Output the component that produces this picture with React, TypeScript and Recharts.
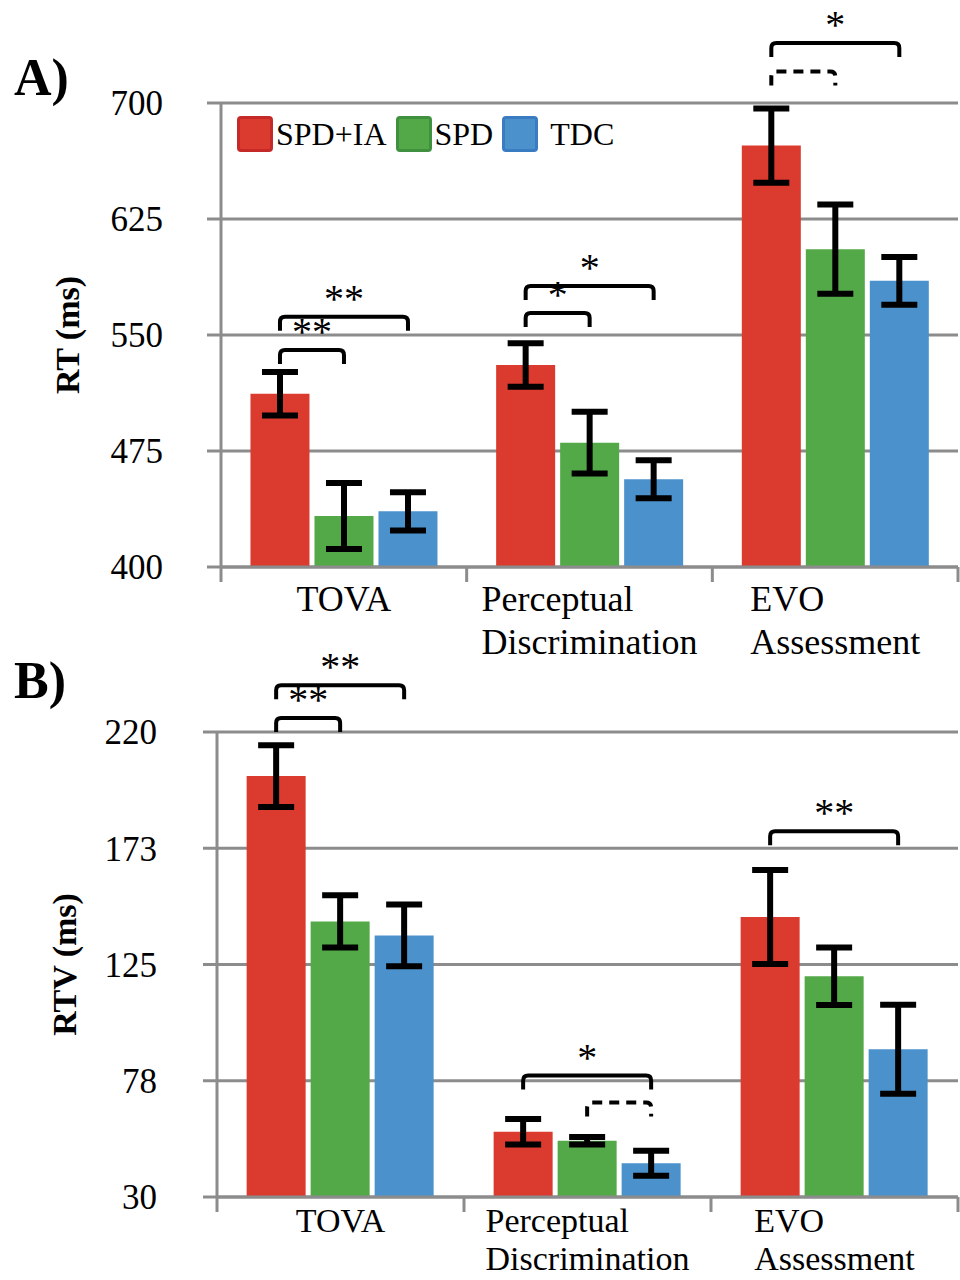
import React from 'react';
import { BarChart, Bar, XAxis, YAxis, CartesianGrid, ErrorBar, LabelList, Legend } from 'recharts';

// ---------- data ----------
const categories = ['TOVA', 'Perceptual Discrimination', 'EVO Assessment'];
const groupNames = ['SPD+IA', 'SPD', 'TDC'];

// Panel A: RT (ms)
const rtSpdIa = [512, 530.6, 672.5];
const rtSpd = [433, 480.4, 605.5];
const rtTdc = [436, 456.7, 585];
const rtErrSpdIa = [14, 14, 24];
const rtErrSpd = [21.3, 20, 28.8];
const rtErrTdc = [12.4, 12.3, 15.4];
const rtTicks = [400, 475, 550, 625, 700];
const rtTickLabels = ['400', '475', '550', '625', '700'];

// Panel B: RTV (ms)
const rtvSpdIa = [202, 56.7, 144.4];
const rtvSpd = [142.6, 53, 120.2];
const rtvTdc = [136.9, 43.8, 90.4];
const rtvErrSpdIa = [12.6, 5.2, 19.2];
const rtvErrSpd = [10.7, 1.5, 11.7];
const rtvErrTdc = [12.6, 5.1, 18.2];
const rtvTicks = [30, 77.5, 125, 172.5, 220];
const rtvTickLabels = ['30', '78', '125', '173', '220'];

// significance brackets: category index, from group, to group, level (axis units), label
type Bracket = { cat: number; from: number; to: number; level: number; label: string; dashed?: boolean };
const rtBrackets: Bracket[] = [
  { cat: 0, from: 0, to: 2, level: 561.8, label: '**' },
  { cat: 0, from: 0, to: 1, level: 540.3, label: '**' },
  { cat: 1, from: 0, to: 2, level: 581.7, label: '*' },
  { cat: 1, from: 0, to: 1, level: 564.2, label: '*' },
  { cat: 2, from: 0, to: 2, level: 738.8, label: '*' },
  { cat: 2, from: 0, to: 1, level: 720.4, label: '', dashed: true },
];
const rtvBrackets: Bracket[] = [
  { cat: 0, from: 0, to: 2, level: 239.1, label: '**' },
  { cat: 0, from: 0, to: 1, level: 225.7, label: '**' },
  { cat: 1, from: 0, to: 2, level: 79.6, label: '*' },
  { cat: 1, from: 1, to: 2, level: 68.6, label: '', dashed: true },
  { cat: 2, from: 0, to: 2, level: 179.4, label: '**' },
];

// ---------- styles ----------
const FONT = '"Liberation Serif", "Times New Roman", serif';
const GRAY = '#8c8c8c';
const COLORS = ['#db3a2e', '#53a947', '#4b92cd'];
const BORDERS = ['#c62a28', '#3f9140', '#3b7bc2'];
const BAR_GAP = 5;

const buildRows = (a: number[], b: number[], c: number[], ea: number[], eb: number[], ec: number[]) =>
  categories.map((name, i) => ({ name, a: a[i], b: b[i], c: c[i], ea: ea[i], eb: eb[i], ec: ec[i] }));

const rtRows = buildRows(rtSpdIa, rtSpd, rtTdc, rtErrSpdIa, rtErrSpd, rtErrTdc);
const rtvRows = buildRows(rtvSpdIa, rtvSpd, rtvTdc, rtvErrSpdIa, rtvErrSpd, rtvErrTdc);

let measureCtx: CanvasRenderingContext2D | null = null;
function measure(text: string, font: string): number {
  if (!measureCtx) measureCtx = document.createElement('canvas').getContext('2d');
  if (!measureCtx) return text.length * 16;
  measureCtx.font = font;
  return measureCtx.measureText(text).width;
}

function makeCategoryTick(plotWidth: number, fontSize: number, firstLine: number, lineGap: number) {
  return (props: any) => {
    const { x, y, payload, index, visibleTicksCount } = props;
    const half = typeof payload?.offset === 'number' && payload.offset > 0 ? payload.offset : plotWidth / categories.length / 2;
    const lines = String(payload.value).split(' ');
    const widths = lines.map((l) => measure(l, `${fontSize}px ${FONT}`));
    const maxW = Math.max(...widths);
    const left = x - maxW / 2;
    const last = index === (visibleTicksCount ?? categories.length) - 1;
    return (
      <g>
        <line x1={x - half} x2={x - half} y1={y} y2={y + 15} stroke={GRAY} strokeWidth={3} />
        {last && <line x1={x + half} x2={x + half} y1={y} y2={y + 15} stroke={GRAY} strokeWidth={3} />}
        {lines.map((l, i) => (
          <text key={i} x={left} y={y + firstLine + i * lineGap} textAnchor="start" fontFamily={FONT} fontSize={fontSize} fill="#000">
            {l}
          </text>
        ))}
      </g>
    );
  };
}

function bracketLayer(list: Bracket[], domainMin: number) {
  return (props: any) => {
    const vb = props.viewBox && typeof props.viewBox.width === 'number' ? props.viewBox : props;
    const x = Number(vb.x), y = Number(vb.y), w = Number(vb.width), h = Number(vb.height);
    const value = Number(props.value);
    const index = props.index;
    if (![x, y, w, h, value].every((n) => isFinite(n)) || value <= domainMin) return null;
    const base = y + h;
    const k = h / (value - domainMin);
    const yOf = (v: number) => base - (v - domainMin) * k;
    const cx = (slot: number) => x + w / 2 + slot * (w + BAR_GAP);
    const items = list.filter((b) => b.cat === index);
    return (
      <g>
        {items.map((b, i) => {
          const x1 = cx(b.from), x2 = cx(b.to), yy = yOf(b.level), leg = 14, r = 5;
          const d = `M${x1},${yy + leg} L${x1},${yy + r} Q${x1},${yy} ${x1 + r},${yy} L${x2 - r},${yy} Q${x2},${yy} ${x2},${yy + r} L${x2},${yy + leg}`;
          return (
            <g key={i}>
              <path d={d} fill="none" stroke="#000" strokeWidth={4} strokeDasharray={b.dashed ? '10 7' : undefined} />
              {b.label ? (
                <text x={(x1 + x2) / 2} y={yy - 5} textAnchor="middle" fontFamily={FONT} fontSize={40} fill="#000">
                  {b.label}
                </text>
              ) : null}
            </g>
          );
        })}
      </g>
    );
  };
}

const YLabel = (props: any) => {
  const vb = props.viewBox || { x: 0, y: 0, width: 0, height: 0 };
  const cx = vb.x + props.cxOffset;
  const cy = vb.y + vb.height / 2;
  return (
    <text
      x={cx}
      y={cy}
      transform={`rotate(-90 ${cx} ${cy})`}
      textAnchor="middle"
      dominantBaseline="central"
      fontFamily={FONT}
      fontWeight="bold"
      fontSize={34}
      fill="#000"
    >
      {props.text}
    </text>
  );
};

const LegendContent = () => (
  <div style={{ display: 'flex', alignItems: 'center', fontFamily: FONT, fontSize: 32, color: '#000', lineHeight: 1 }}>
    {groupNames.map((n, i) => (
      <div key={n} style={{ display: 'flex', alignItems: 'center', marginRight: 9 }}>
        <span
          style={{
            display: 'inline-block',
            width: 36,
            height: 36,
            boxSizing: 'border-box',
            background: COLORS[i],
            border: `3px solid ${BORDERS[i]}`,
            borderRadius: 4,
            marginRight: i === 2 ? 12 : 3,
          }}
        />
        <span>{n}</span>
      </div>
    ))}
  </div>
);

type PanelProps = {
  rows: any[];
  height: number;
  top: number;
  yWidth: number;
  xHeight: number;
  domain: [number, number];
  ticks: number[];
  tickLabels: string[];
  tickMargin: number;
  yLabel: string;
  yLabelX: number;
  brackets: Bracket[];
  catFontSize: number;
  catFirstLine: number;
  catLineGap: number;
  legendTop?: number;
};

function Panel(p: PanelProps) {
  const width = 960;
  const plotWidth = width - p.yWidth - 2;
  return (
    <BarChart
      width={width}
      height={p.height}
      data={p.rows}
      margin={{ top: p.top, right: 2, bottom: 0, left: 0 }}
      barCategoryGap="12%"
      barGap={BAR_GAP}
    >
      <CartesianGrid vertical={false} stroke={GRAY} strokeWidth={3} />
      <XAxis
        dataKey="name"
        interval={0}
        height={p.xHeight}
        axisLine={{ stroke: GRAY, strokeWidth: 3 }}
        tickLine={false}
        tickSize={0}
        tickMargin={0}
        tick={makeCategoryTick(plotWidth, p.catFontSize, p.catFirstLine, p.catLineGap)}
      />
      <YAxis
        type="number"
        domain={p.domain}
        ticks={p.ticks}
        interval={0}
        width={p.yWidth}
        axisLine={{ stroke: GRAY, strokeWidth: 3 }}
        tickLine={{ stroke: GRAY, strokeWidth: 3 }}
        tickSize={14}
        tickMargin={p.tickMargin}
        tick={{ fill: '#000', fontSize: 35, fontFamily: FONT }}
        tickFormatter={(v: number) => {
          const i = p.ticks.indexOf(v);
          return i >= 0 ? p.tickLabels[i] : String(v);
        }}
        label={<YLabel text={p.yLabel} cxOffset={p.yLabelX} />}
      />
      {p.legendTop !== undefined && (
        <Legend
          layout="horizontal"
          verticalAlign="middle"
          align="center"
          content={<LegendContent />}
          wrapperStyle={{ top: p.legendTop, left: 237, width: 'auto' }}
        />
      )}
      <Bar dataKey="a" name={groupNames[0]} fill={COLORS[0]} isAnimationActive={false}>
        <ErrorBar dataKey="ea" width={18} strokeWidth={6} stroke="#000" direction="y" />
        <LabelList dataKey="a" content={bracketLayer(p.brackets, p.domain[0])} />
      </Bar>
      <Bar dataKey="b" name={groupNames[1]} fill={COLORS[1]} isAnimationActive={false}>
        <ErrorBar dataKey="eb" width={18} strokeWidth={6} stroke="#000" direction="y" />
      </Bar>
      <Bar dataKey="c" name={groupNames[2]} fill={COLORS[2]} isAnimationActive={false}>
        <ErrorBar dataKey="ec" width={18} strokeWidth={6} stroke="#000" direction="y" />
      </Bar>
    </BarChart>
  );
}

const PanelTag = ({ text, top }: { text: string; top: number }) => (
  <div
    style={{
      position: 'absolute',
      left: 14,
      top,
      fontFamily: FONT,
      fontWeight: 'bold',
      fontSize: 52,
      lineHeight: '52px',
      color: '#000',
    }}
  >
    {text}
  </div>
);

export default function App() {
  return (
    <div style={{ position: 'absolute', left: 0, top: 0, width: 960, height: 1280, background: '#fff', overflow: 'hidden' }}>
      <div style={{ position: 'absolute', left: 0, top: 0 }}>
        <Panel
          rows={rtRows}
          height={690}
          top={103}
          yWidth={221}
          xHeight={123}
          domain={[400, 700]}
          ticks={rtTicks}
          tickLabels={rtTickLabels}
          tickMargin={44}
          yLabel="RT (ms)"
          yLabelX={67}
          brackets={rtBrackets}
          catFontSize={36}
          catFirstLine={44}
          catLineGap={43}
          legendTop={116}
        />
      </div>
      <div style={{ position: 'absolute', left: 0, top: 600 }}>
        <Panel
          rows={rtvRows}
          height={680}
          top={132}
          yWidth={217}
          xHeight={83}
          domain={[30, 220]}
          ticks={rtvTicks}
          tickLabels={rtvTickLabels}
          tickMargin={46}
          yLabel="RTV (ms)"
          yLabelX={64}
          brackets={rtvBrackets}
          catFontSize={34}
          catFirstLine={35}
          catLineGap={38}
        />
      </div>
      <PanelTag text="A)" top={52} />
      <PanelTag text="B)" top={655} />
    </div>
  );
}
